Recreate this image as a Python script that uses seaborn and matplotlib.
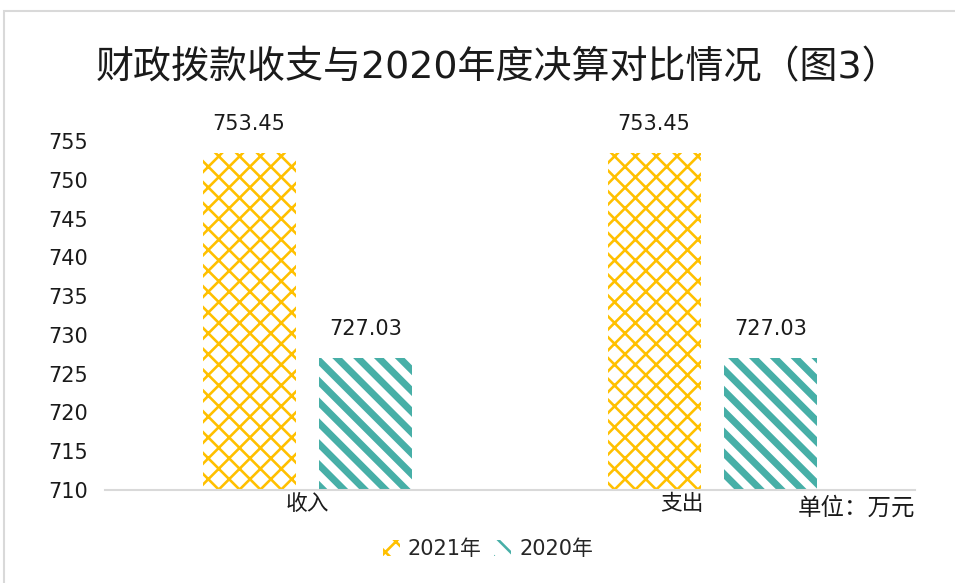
import matplotlib
matplotlib.use("Agg")
import matplotlib.pyplot as plt
import matplotlib.transforms as mtransforms
from matplotlib.patches import Rectangle, Patch
import seaborn as sns
import pandas as pd

categories = ["收入", "支出"]
years = ["2021年", "2020年"]
values_2021 = [753.45, 753.45]
values_2020 = [727.03, 727.03]
y_ticks = [710, 715, 720, 725, 730, 735, 740, 745, 750, 755]
title = "财政拨款收支与2020年度决算对比情况（图3）"
unit_text = "单位：万元"

df = pd.DataFrame({
    "类别": categories * 2,
    "年份": [years[0]] * len(categories) + [years[1]] * len(categories),
    "金额": values_2021 + values_2020,
})

sns.set_theme(style="white")
plt.rcParams['font.family'] = ['DejaVu Sans', 'Noto Sans CJK SC']
plt.rcParams['hatch.linewidth'] = 1.5
CJK = ['Noto Sans CJK SC', 'DejaVu Sans']

DPI = 125
W, H = 955, 583
fig = plt.figure(figsize=(W / DPI, H / DPI), dpi=DPI)
ax = fig.add_axes([105 / W, 1 - 490 / H, (915 - 105) / W, (490 - 141) / H])

yellow = "#FFC000"
teal = "#47AFA7"
palette = {years[0]: yellow, years[1]: teal}

sns.barplot(data=df, x="类别", y="金额", hue="年份", hue_order=years,
            order=categories, palette=palette, width=0.576, gap=0.2,
            ax=ax, legend=False, errorbar=None)

hatches = {0: "xx", 1: "\\\\"}
hlw = {0: 1.5, 1: 4.0}
for i, cont in enumerate(ax.containers):
    col = yellow if i == 0 else teal
    for bar in cont:
        bar.set_facecolor("white")
        bar.set_edgecolor(col)
        bar.set_linewidth(0)
        bar.set_hatch(hatches[i])
        try:
            bar.set_hatch_linewidth(hlw[i])
        except Exception:
            pass
    ax.bar_label(cont, labels=[f"{v:.2f}" for v in cont.datavalues],
                 padding=11, fontsize=12, color="#1a1a1a")

ax.set_ylim(710, 755)
ax.set_xlim(-0.5, 1.5)
ax.set_yticks(y_ticks)
ax.set_yticklabels([str(t) for t in y_ticks], fontsize=12, color="#1a1a1a")
ax.set_xlabel("")
ax.set_ylabel("")
ax.tick_params(axis="y", length=0, pad=10)
ax.tick_params(axis="x", length=0, pad=2)
for lab in ax.get_xticklabels():
    lab.set_fontfamily(CJK)
    lab.set_fontsize(12.5)
    lab.set_color("#1a1a1a")
for s in ["top", "right", "left"]:
    ax.spines[s].set_visible(False)
ax.spines["bottom"].set_color("#D9D9D9")
ax.spines["bottom"].set_linewidth(1.2)

# shift second category label as in reference
lbls = ax.get_xticklabels()
off = mtransforms.ScaledTranslation(-31 / DPI, 0, fig.dpi_scale_trans)
lbls[1].set_transform(lbls[1].get_transform() + off)

fig.text(915 / W, 1 - 508 / H, unit_text, ha="right", va="center",
         fontsize=13.5, color="#1a1a1a", family=CJK)

fig.text(498 / W, 1 - 68 / H, title, ha="center", va="center",
         fontsize=21.9, color="#1a1a1a")

handles = [Patch(facecolor="white", edgecolor=yellow, hatch="xx", linewidth=0),
           Patch(facecolor="white", edgecolor=teal, hatch="\\\\", linewidth=0)]
for h_, lw_ in zip(handles, [1.5, 3.0]):
    try:
        h_.set_hatch_linewidth(lw_)
    except Exception:
        pass
fig.legend(handles, years, loc="center", bbox_to_anchor=(488 / W, 1 - 549 / H),
           ncol=2, frameon=False, fontsize=12, handlelength=0.8, handleheight=0.8,
           handletextpad=0.4, columnspacing=0.6)

border = Rectangle((4 / W, -0.05), 1.2, 1 - 11 / H + 0.05, transform=fig.transFigure,
                   fill=False, edgecolor="#D9D9D9", linewidth=1.2)
fig.patches.append(border)

fig.savefig("out.png", dpi=DPI)
